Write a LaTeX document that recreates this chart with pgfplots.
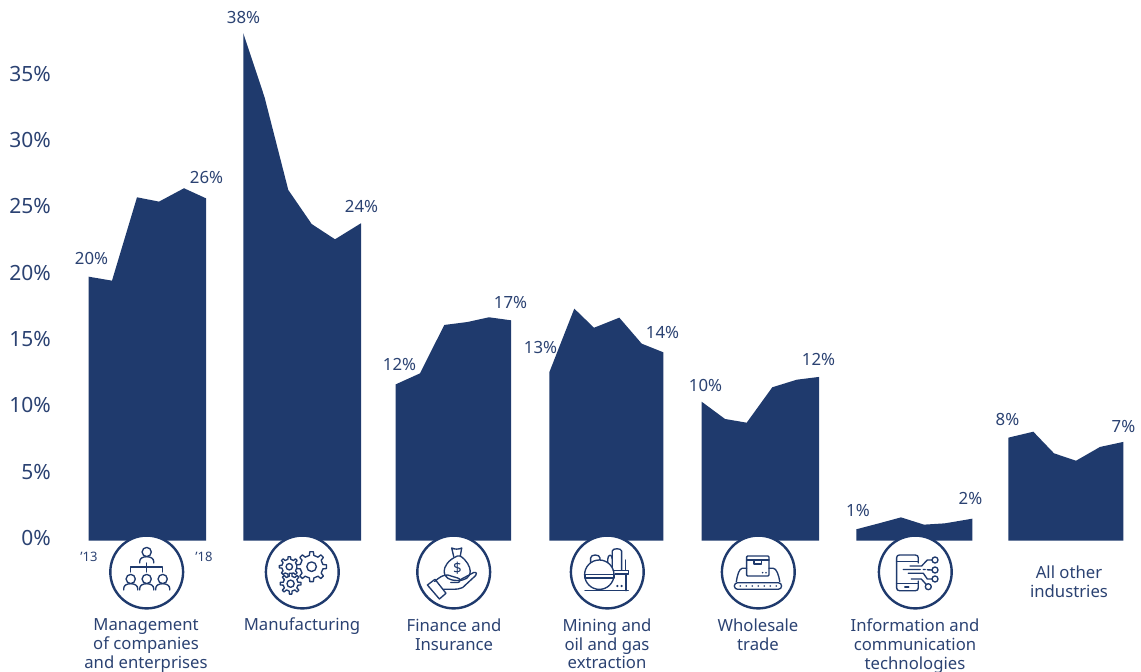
\documentclass[border=0pt]{standalone}
\usepackage{pgfplots}
\usepackage{pgfplotstable}
\usepackage{fontspec}
\pgfplotsset{compat=1.18}
\setmainfont{Noto Sans}
\definecolor{navy}{HTML}{1F3A6D}
\definecolor{ink}{HTML}{2B4272}

% Share of each industry, 2013-2018; x gives the horizontal position of each year
\pgfplotstableread{
x y
88.7 19.91
112 19.61
137 25.90
159 25.57
184 26.58
206 25.82
}\mgmt
\pgfplotstableread{
x y
243.3 38.27
264.5 33.46
288.3 26.45
311.7 23.88
335 22.73
361 23.94
}\manuf
\pgfplotstableread{
x y
395.7 11.79
420 12.62
444.3 16.27
467.3 16.49
489 16.85
511 16.62
}\fin
\pgfplotstableread{
x y
549.3 12.70
574.3 17.50
594 16.06
619.3 16.82
641.7 14.86
663.3 14.21
}\mining
\pgfplotstableread{
x y
701.7 10.48
725 9.18
746.7 8.90
772.3 11.57
796.7 12.14
819 12.35
}\whole
\pgfplotstableread{
x y
856.3 0.86
879 1.31
901 1.76
924 1.21
945 1.31
972.3 1.66
}\info
\pgfplotstableread{
x y
1008.3 7.77
1033.3 8.22
1054 6.59
1076 6.03
1100 7.07
1123.3 7.45
}\other

\newcommand{\valfont}{\fontsize{16.8}{19}\selectfont}
\newcommand{\catfont}{\fontsize{16.7}{18.8}\selectfont}

% head and shoulders of a small figure
\newcommand{\person}[2]{%
  \begin{scope}[shift={(#1,#2)}]
    \draw (0,-1.5) circle (4.6);
    \draw (-7,9.5) -- (-7,8) .. controls (-7,5) and (-4,3.2) .. (0,3.2)
       .. controls (4,3.2) and (7,5) .. (7,8) -- (7,9.5);
  \end{scope}}
% gear: centre x, centre y, root radius, tip radius, hole radius
\newcommand{\gear}[5]{%
  \begin{scope}[shift={(#1,#2)}]
    \draw[fill=white] (-11:#3)
      \foreach \a in {0,45,...,315} { -- (\a-11:#3) -- (\a-7:#4) -- (\a+7:#4) -- (\a+11:#3) } -- cycle;
    \draw (0,0) circle (#5);
  \end{scope}}

\begin{document}
\begin{tikzpicture}
\useasboundingbox (0,0) rectangle (1141pt,672pt);
\begin{axis}[
  at={(51pt,0pt)}, anchor=south west,
  scale only axis, width=1090pt, height=672pt,
  xmin=51, xmax=1141, ymin=-9.902, ymax=40.777,
  axis line style={draw=none},
  clip=false,
  xtick=\empty,
  ytick={0,5,10,15,20,25,30,35},
  yticklabels={0\%,5\%,10\%,15\%,20\%,25\%,30\%,35\%},
  major tick length=0pt,
  tick label style={text=ink},
  yticklabel style={font=\fontsize{21}{24}\selectfont, anchor=east, inner sep=0pt, xshift=0pt, yshift=2.7pt},
]
\addplot[fill=navy, draw=none] table[x=x,y=y] {\mgmt} \closedcycle;
\addplot[fill=navy, draw=none] table[x=x,y=y] {\manuf} \closedcycle;
\addplot[fill=navy, draw=none] table[x=x,y=y] {\fin} \closedcycle;
\addplot[fill=navy, draw=none] table[x=x,y=y] {\mining} \closedcycle;
\addplot[fill=navy, draw=none] table[x=x,y=y] {\whole} \closedcycle;
\addplot[fill=navy, draw=none] table[x=x,y=y] {\info} \closedcycle;
\addplot[fill=navy, draw=none] table[x=x,y=y] {\other} \closedcycle;
\end{axis}

\begin{scope}[x=1pt,y=-1pt,shift={(0pt,672pt)}]
  % value labels at the first and last year of each industry
  \begin{scope}[every node/.style={text=ink,inner sep=0pt,font=\valfont}]
    \node at (91.5,258) {20\%};
    \node at (206.5,178) {26\%};
    \node at (243.5,18) {38\%};
    \node at (361.5,207) {24\%};
    \node at (399.5,365) {12\%};
    \node at (510.5,303) {17\%};
    \node at (540.5,348) {13\%};
    \node at (662.5,333) {14\%};
    \node at (705.5,385) {10\%};
    \node at (818.5,360) {12\%};
    \node at (858,511) {1\%};
    \node at (970.5,499) {2\%};
    \node at (1007.5,420) {8\%};
    \node at (1123.5,427) {7\%};
  \end{scope}
  \node[text=ink,inner sep=0pt,font=\fontsize{13}{14}\selectfont] at (89,557) {’13};
  \node[text=ink,inner sep=0pt,font=\fontsize{13}{14}\selectfont] at (204,557) {’18};

  % industry names
  \begin{scope}[every node/.style={text=ink,inner sep=0pt,align=center,anchor=north,font=\catfont}]
    \node at (146,618.5) {Management\\of companies\\and enterprises};
    \node at (302,618) {Manufacturing};
    \node at (454,618.5) {Finance and\\Insurance};
    \node at (607,618.5) {Mining and\\oil and gas\\extraction};
    \node at (758,618.5) {Wholesale\\trade};
    \node at (915,618.5) {Information and\\communication\\technologies};
    \node at (1069,566) {All other\\industries};
  \end{scope}

  % roundels under the areas
  \foreach \cx in {146.7,302.3,453.7,607.3,758.3,915.3}
    \draw[navy,line width=2.4pt,fill=white] (\cx,572) circle (36.4);

  \begin{scope}[navy,line width=1.35pt,line cap=round,line join=round]
    % organisation chart
    \begin{scope}[shift={(146.7,572)}]
      \person{0}{-18.5}
      \draw (0,-9) -- (0,0) (-16,0) -- (-16,-5) -- (16,-5) -- (16,0);
      \person{-16}{8.5}
      \person{0}{8.5}
      \person{16}{8.5}
    \end{scope}
    % gears
    \begin{scope}[shift={(302.3,572)}]
      \gear{-13}{-5.3}{7.5}{10}{3.2}
      \gear{-11.7}{11.7}{7.5}{10.5}{3.6}
      \gear{9.3}{-5.3}{11.5}{15}{4.8}
    \end{scope}
    % hand holding a money bag
    \begin{scope}[shift={(453.7,572)}]
      \draw (3.7,-16) .. controls (-6,-12) and (-9.5,-5) .. (-9.5,-1)
         .. controls (-9.5,6) and (-4,8.5) .. (3.7,8.5)
         .. controls (11,8.5) and (16.5,6) .. (16.5,-1)
         .. controls (16.5,-5) and (13,-12) .. (6.5,-16) -- cycle;
      \draw (0,-15.5) -- (-2,-24) .. controls (1,-22.5) and (5,-22.5) .. (8,-24) -- (6.5,-15.5);
      \node[inner sep=0pt,font=\fontsize{15}{15}\selectfont,text=navy] at (3.7,-3.5) {\$};
      \draw (-26.3,13) -- (-18.7,7.3) -- (-7.7,21.3) -- (-14.3,27) -- cycle;
      \draw (-19,9.5) .. controls (-14,5) and (-11,3) .. (-6,3) -- (4,6) .. controls (7,6.5) and (7,10.5) .. (4,10.5) -- (-3,10.5);
      \draw (6,8) -- (20,0.5) .. controls (23,0) and (23.5,2) .. (22,3.5)
         -- (9,15.5) .. controls (6,17) and (3,17.3) .. (0,17.3) -- (-10.3,17.3);
    \end{scope}
    % refinery
    \begin{scope}[shift={(607.3,572)}]
      \draw (-16.7,-6) -- (-16.7,-14) .. controls (-16.7,-18) and (-7.3,-18) .. (-7.3,-14) -- (-7.3,-11);
      \draw (-8,-12.7) -- (-8,-10);
      \draw (0.5,-3) -- (0.5,-13) .. controls (0.5,-18) and (5,-18) .. (5,-13);
      \draw (5,-2) -- (5,-21) .. controls (5,-24) and (14.3,-24) .. (14.3,-21) -- (14.3,-2);
      \draw (18,-2) -- (18,-12);
      \draw[fill=white] (-8,2.7) circle (14.7);
      \draw (-22.3,2.7) -- (6.7,2.7) (-22.3,6) -- (6.7,6) (-22.3,2.7) -- (-22.3,6) (6.7,2.7) -- (6.7,6);
      \draw (6,-1.3) -- (21,-1.3) -- (21,2) -- (8,2);
      \draw (18.7,2) -- (18.7,18.7);
      \draw (-22.3,18.7) -- (21,18.7);
      \fill (10,14) circle (1.2) (14.3,14) circle (1.2);
    \end{scope}
    % parcel on a conveyor
    \begin{scope}[shift={(758.3,572)}]
      \draw[rounded corners=1pt] (-11.7,-16) rectangle (10.7,4);
      \draw (-11.7,-12) -- (10.7,-12);
      \draw (-4.3,-12) -- (-4.3,-8) -- (3.3,-8) -- (3.3,-12);
      \fill (4.3,0.7) circle (0.9) (7.7,0.7) circle (0.9);
      \draw[rounded corners=3.3pt] (-24,10.7) rectangle (23.3,17.3);
      \draw (-22,9.7) .. controls (-21,3) and (-19,-3.7) .. (-16,-3.7) -- (-11.7,-3.7);
      \draw (10.7,-3.7) -- (15,-3.7) .. controls (18,-3.7) and (20.5,3) .. (21.5,9.7);
      \foreach \dx in {-18,-12,-6,0,6,12,18}
        \fill (\dx,14) circle (0.9);
    \end{scope}
    % phone with circuit traces
    \begin{scope}[shift={(915.3,572)}]
      \draw (3,-9) -- (3,-14) .. controls (3,-16) and (2,-17) .. (0,-17) -- (-15.7,-17)
         .. controls (-17.7,-17) and (-18.7,-16) .. (-18.7,-14) -- (-18.7,15.7)
         .. controls (-18.7,17.7) and (-17.7,18.7) .. (-15.7,18.7) -- (0,18.7)
         .. controls (2,18.7) and (3,17.7) .. (3,15.7) -- (3,9);
      \draw (-18.7,-10.3) -- (3,-10.3) (-18.7,11.3) -- (3,11.3) (-10.5,15) -- (-6.5,15);
      \draw (19.7,-12) circle (3) (19.7,-2) circle (3) (19.7,7) circle (3) (13,14.7) circle (3);
      \draw (-5.3,-6) -- (6.3,-6) -- (12,-12) -- (16.7,-12);
      \draw (-12,-2.5) -- (5,-2.5) (8,-2.5) -- (10,-2.5) (12,-2.2) -- (16.7,-2);
      \draw (-7,1.3) -- (8,1.3) -- (12,7) -- (16.7,7);
      \draw (-4,7) -- (6,7) -- (11,12.5);
    \end{scope}
  \end{scope}
\end{scope}
\end{tikzpicture}
\end{document}
